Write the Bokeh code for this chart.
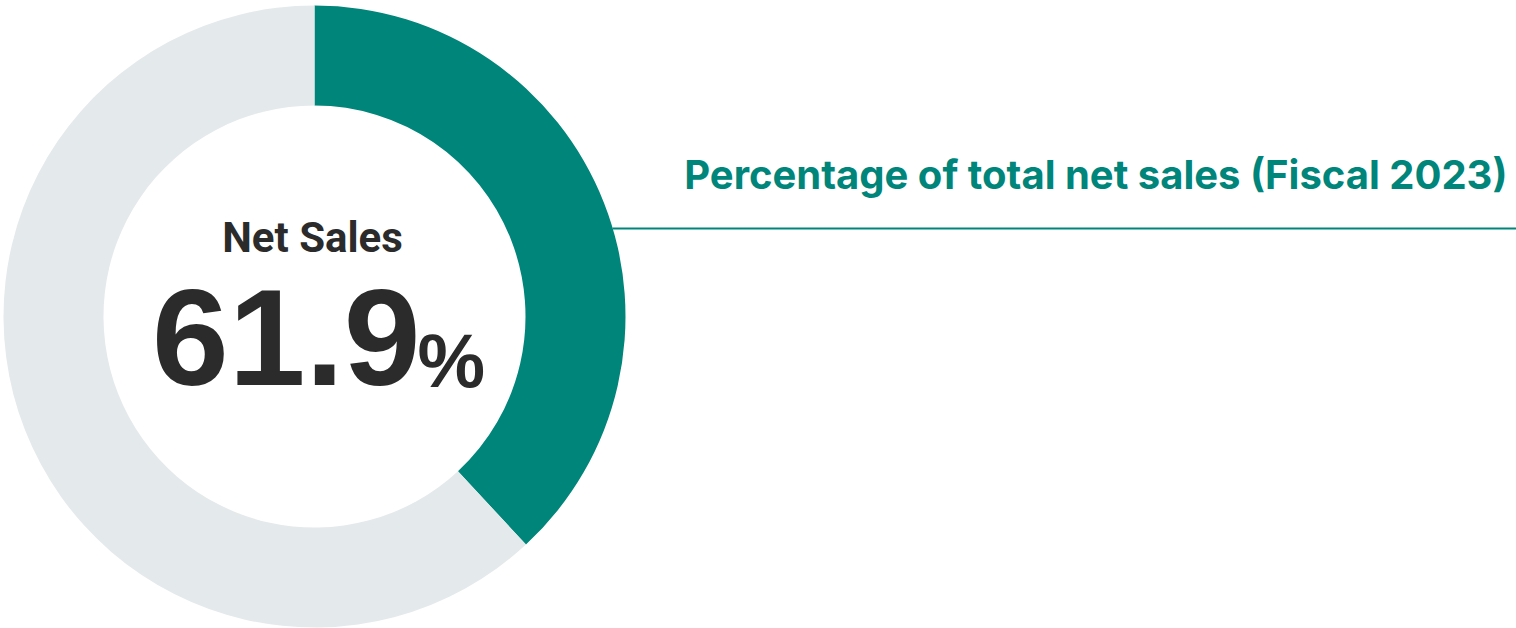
import numpy as np
from bokeh.plotting import figure
from bokeh.models import Range1d, ColumnDataSource
from bokeh.core.properties import value
from bokeh.embed import file_html
from bokeh.resources import INLINE

# Data
segments = ["Other", "Rest"]
shares = [38.1, 61.9]
colors = ["#00857a", "#e4e9eb"]
center_label = "Net Sales"
center_value = "61.9"
center_unit = "%"
title_text = "Percentage of total net sales (Fiscal 2023)"

PW, PH = 1516, 628   # data units = screen pixels
p = figure(width=PW, height=PH, output_backend="svg",
           toolbar_location=None,
           x_range=Range1d(0, PW), y_range=Range1d(0, PH),
           min_border=0, outline_line_color=None)
p.axis.visible = False
p.grid.visible = False
p.background_fill_color = "white"
p.border_fill_color = "white"

cx, cy = 314, PH - 316
r_out, r_in = 311, 211

fr = np.array(shares) / sum(shares)
cum = np.concatenate([[0], np.cumsum(fr)])
ends = np.pi / 2 - 2 * np.pi * cum[:-1]
starts = np.pi / 2 - 2 * np.pi * cum[1:]
src = ColumnDataSource(dict(start=starts, end=ends, color=colors, name=segments))
p.annular_wedge(x=cx, y=cy, inner_radius=r_in, outer_radius=r_out,
                start_angle="start", end_angle="end", fill_color="color",
                line_color=None, source=src)

K = 0.37  # baseline compensation (fraction of font size)


def ty(baseline, size):
    return PH - (baseline - K * size)


roboto = value("Roboto")
arial = value("Liberation Sans")
inter = value("Inter")
p.text(x=[312], y=[ty(253, 42)], text=[center_label], text_font=roboto,
       text_font_style="bold", text_font_size="42px", text_color="#2b2b2b",
       text_align="center", text_baseline="alphabetic")
p.text(x=[420], y=[ty(388, 138)], text=[center_value], text_font=arial,
       text_font_style="bold", text_font_size="138px", text_color="#2b2b2b",
       text_align="right", text_baseline="alphabetic")
p.text(x=[417], y=[ty(388, 76)], text=[center_unit], text_font=arial,
       text_font_style="bold", text_font_size="76px", text_color="#2b2b2b",
       text_align="left", text_baseline="alphabetic")

p.text(x=[1507], y=[ty(189, 40)], text=[title_text], text_font=inter,
       text_font_style="bold", text_font_size="40px", text_color="#00857a",
       text_align="right", text_baseline="alphabetic")
p.segment(x0=[612], y0=[PH - 228], x1=[PW], y1=[PH - 228],
          line_color="#00857a", line_width=2)

open("out.html", "w").write(file_html(p, INLINE))
